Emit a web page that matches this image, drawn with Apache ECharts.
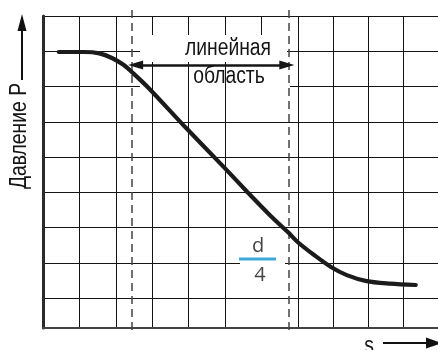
<!DOCTYPE html>
<html>
<head>
<meta charset="utf-8">
<script src="https://cdn.jsdelivr.net/npm/echarts@6/dist/echarts.min.js"></script>
<style>
html,body{margin:0;padding:0;background:#fff;}
#chart{width:438px;height:350px;}
</style>
</head>
<body>
<div id="chart"></div>
<script>
// ---- data (in grid units: x = column widths from the y axis, y = row heights above the x axis) ----
const curveX = [0.44, 1.15, 1.57, 1.92, 2.25, 2.53, 2.94, 3.96, 5.03, 5.69, 6.37, 6.84, 7.09, 7.55, 8.02, 8.46, 9.01, 9.67, 10.38];
const curveY = [7.83, 7.83, 7.79, 7.66, 7.46, 7.21, 6.81, 5.70, 4.57, 3.86, 3.15, 2.70, 2.44, 2.07, 1.73, 1.50, 1.33, 1.26, 1.22];
const dashX = [2.47, 6.84];              // borders of the linear region
const regionArrowX = [2.58, 6.79];       // double arrow ends
const regionArrowY = 7.46;
const yLabel = 'Давление P';
const xLabel = 's';
const regionLabel = ['линейная', 'область'];
const fracTop = 'd';
const fracBottom = '4';

// ---- layout ----
const L = 43, T = 16, AXY = 328;
const UX = 36.4, UY = 35.25;
const W = 11 * UX;
const SANS = "'Liberation Sans',Arial,sans-serif";
const SX = 0.84;
const GRID = '#141414';
const INK = '#151515';

const chart = echarts.init(document.getElementById('chart'), null, {renderer: 'canvas'});

function splitAxis(min, max, z) {
  return {type: 'value', min: min, max: max, interval: 1, z: z,
    axisLine: {show: false}, axisTick: {show: false}, axisLabel: {show: false},
    splitLine: {show: true, lineStyle: {color: GRID, width: 1}}};
}
function noneAxis(min, max) {
  return {type: 'value', min: min, max: max, show: false, splitLine: {show: false}};
}

const option = {
  animation: false,
  backgroundColor: '#fff',
  grid: [
    {left: L, top: T - 8, width: W, height: AXY + 2 - (T - 8)},  // 0 data
    {left: L, top: T, width: W, height: AXY - T},                // 1 frame
    {left: L, top: T, width: 5 * UX, height: AXY - T},           // 2 vertical lines left
    {left: L + 7 * UX, top: T, width: 4 * UX, height: AXY - T},  // 3 vertical lines right
    {left: L + 5 * UX, top: T, width: 2 * UX, height: 19},       // 4 top stubs
    {left: L, top: T, width: W, height: 8 * UY}                  // 5 horizontal lines
  ],
  xAxis: [
    Object.assign(noneAxis(0, 11), {gridIndex: 0}),
    {gridIndex: 1, type: 'value', min: 0, max: 11, z: 2,
      axisLine: {show: true, onZero: false, lineStyle: {color: '#444', width: 2}},
      axisTick: {show: false}, axisLabel: {show: false}, splitLine: {show: false}},
    Object.assign(splitAxis(0, 5, 2), {gridIndex: 2}),
    Object.assign(splitAxis(0, 4, 2), {gridIndex: 3}),
    Object.assign(splitAxis(0, 2, 2), {gridIndex: 4}),
    Object.assign(noneAxis(0, 11), {gridIndex: 5})
  ],
  yAxis: [
    Object.assign(noneAxis(-(2) / UY, (AXY - (T - 8)) / UY), {gridIndex: 0}),
    {gridIndex: 1, type: 'value', min: 0, max: 1, z: 2,
      axisLine: {show: true, onZero: false, lineStyle: {color: '#2a2a2a', width: 3}},
      axisTick: {show: false}, axisLabel: {show: false}, splitLine: {show: false}},
    Object.assign(noneAxis(0, 1), {gridIndex: 2}),
    Object.assign(noneAxis(0, 1), {gridIndex: 3}),
    Object.assign(noneAxis(0, 1), {gridIndex: 4}),
    Object.assign(splitAxis(0, 8, 0), {gridIndex: 5})
  ],
  series: [
    {
      type: 'line',
      xAxisIndex: 0, yAxisIndex: 0,
      z: 5,
      data: curveX.map((x, i) => [x, curveY[i]]),
      showSymbol: false,
      smooth: 0.3,
      clip: false,
      lineStyle: {color: '#1b1b1b', width: 4.2, cap: 'round'},
      markLine: {
        silent: true,
        animation: false,
        label: {show: false},
        data: dashX.map(x => ({
          xAxis: x, symbol: 'none',
          lineStyle: {type: [8, 5], color: '#444', width: 1.5}
        })).concat([[
          {coord: [regionArrowX[0], regionArrowY], symbol: 'triangle', symbolSize: [9, 15],
            lineStyle: {color: '#151515', width: 2.5, type: 'solid'}},
          {coord: [regionArrowX[1], regionArrowY], symbol: 'triangle', symbolSize: [9, 15]}
        ]]),
        symbol: ['none', 'none']
      }
    }
  ],
  graphic: {elements: [
    // white masks behind the annotations
    {type: 'rect', z: 3, shape: {x: 140, y: 35, width: 147, height: 27}, style: {fill: '#fff'}},
    {type: 'rect', z: 1, shape: {x: 140, y: 84, width: 150, height: 6}, style: {fill: '#fff'}},
    {type: 'rect', z: 1, shape: {x: 240, y: 257, width: 45, height: 11}, style: {fill: '#fff'}},
    // region label
    {type: 'text', z: 4, x: 228, y: 49, scaleX: SX, style: {text: regionLabel[0], font: '23px ' + SANS, fill: INK, align: 'center', verticalAlign: 'middle'}},
    {type: 'text', z: 4, x: 229, y: 77, scaleX: SX, style: {text: regionLabel[1], font: '23px ' + SANS, fill: INK, align: 'center', verticalAlign: 'middle'}},
    // fraction d/4
    {type: 'text', z: 4, x: 258, y: 246, style: {text: fracTop, font: "20px 'Open Sans','Noto Sans',sans-serif", fill: '#444', align: 'center', verticalAlign: 'middle'}},
    {type: 'rect', z: 4, shape: {x: 239, y: 257.5, width: 37, height: 3}, style: {fill: '#3aa9d8'}},
    {type: 'text', z: 4, x: 260, y: 275, style: {text: fracBottom, font: "20px 'Open Sans','Noto Sans',sans-serif", fill: '#444', align: 'center', verticalAlign: 'middle'}},
    // y axis title and arrow
    {type: 'text', z: 4, x: 20, y: 136, rotation: Math.PI / 2, scaleX: SX, style: {text: yLabel, font: '23px ' + SANS, fill: INK, align: 'center', verticalAlign: 'middle'}},
    {type: 'line', z: 4, shape: {x1: 22, y1: 80, x2: 22, y2: 28}, style: {stroke: '#111', lineWidth: 2}},
    {type: 'polygon', z: 4, shape: {points: [[22, 14], [17.5, 31], [26.5, 31]]}, style: {fill: '#111'}},
    // x axis title and arrow
    {type: 'text', z: 4, x: 369, y: 347, scaleX: SX, style: {text: xLabel, font: '23px ' + SANS, fill: INK, align: 'center', verticalAlign: 'middle'}},
    {type: 'line', z: 4, shape: {x1: 383, y1: 343, x2: 430, y2: 343}, style: {stroke: '#111', lineWidth: 2.2}},
    {type: 'polygon', z: 4, shape: {points: [[442, 343], [426, 337.5], [426, 348.5]]}, style: {fill: '#111'}}
  ]}
};
chart.setOption(option);
</script>
</body>
</html>
